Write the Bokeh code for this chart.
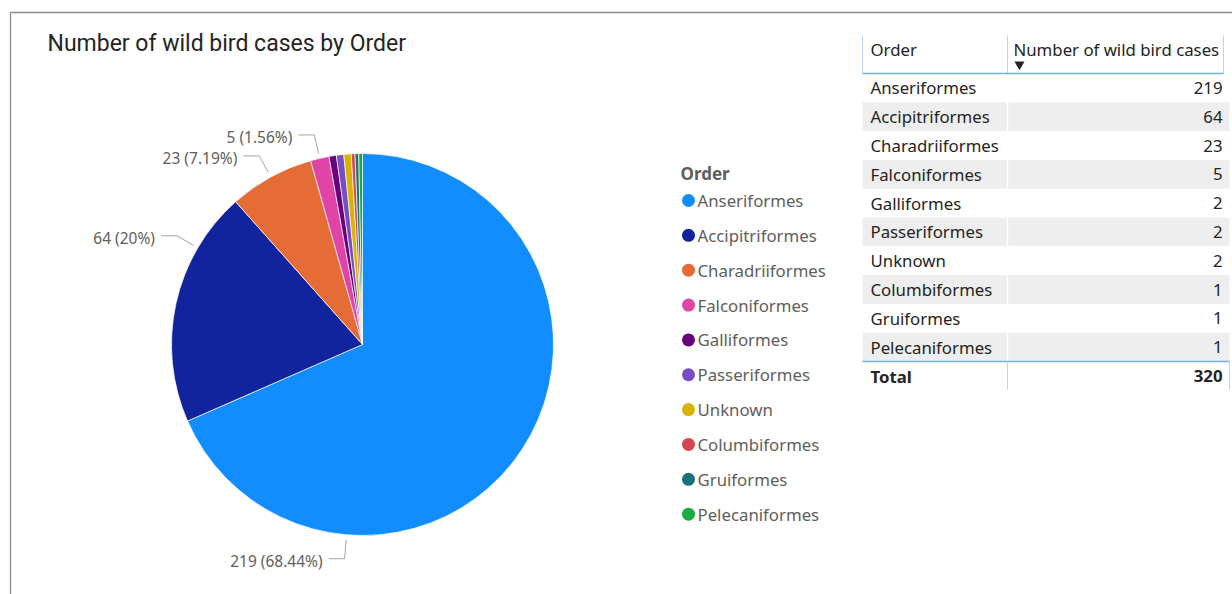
import math
from bokeh.plotting import figure
from bokeh.models import Range1d
from bokeh.core.properties import value
from bokeh.embed import file_html
from bokeh.resources import INLINE

# ---------------- data ----------------
chart_title = "Number of wild bird cases by Order"
orders = ["Anseriformes", "Accipitriformes", "Charadriiformes", "Falconiformes",
          "Galliformes", "Passeriformes", "Unknown", "Columbiformes",
          "Gruiformes", "Pelecaniformes"]
cases = [219, 64, 23, 5, 2, 2, 2, 1, 1, 1]
colors = ["#118DFF", "#12239E", "#E66C37", "#E044A7", "#6B007B",
          "#744EC2", "#D9B300", "#D64550", "#197278", "#1AAB40"]
table_headers = ["Order", "Number of wild bird cases"]
legend_title = "Order"
total_label = "Total"
n_labelled = 4

# ---------------- layout (page pixels) ----------------
W, H = 1232, 594
CX, CY, R = 362, 344, 191
anchor_frac = [0.75, 0.75, 0.5, 0.5]
FONT = "Noto Sans"
GRAY_TXT = "#605E5C"
DARK_TXT = "#252423"
FS = "16.8px"

p = figure(width=W, height=H, output_backend="svg", toolbar_location=None,
           x_range=Range1d(0, W), y_range=Range1d(H, 0),
           min_border=0, outline_line_color=None)
p.axis.visible = False
p.grid.visible = False

# outer frame
p.quad(left=[10], right=[1300], top=[12], bottom=[700], fill_color=None,
       line_color="#8C8C8C", line_width=1.3)

# title
p.text(x=[47], y=[43], text=[chart_title], text_font=value("Roboto"),
       text_font_size="23px", text_color=DARK_TXT, text_baseline="middle",
       text_align="left")

# ---------------- pie ----------------
total = sum(cases)
starts, ends = [], []
acc = 0.0
for c in cases:
    a0 = acc / total * 360.0
    acc += c
    a1 = acc / total * 360.0
    starts.append(a0)
    ends.append(a1)

p.wedge(x=CX, y=CY, radius=R,
        start_angle=[math.radians(90 - a) for a in starts],
        end_angle=[math.radians(90 - a) for a in ends],
        direction="clock", fill_color=colors, line_color="white", line_width=0.7)

def fmt_pct(v):
    s = f"{v:.2f}".rstrip("0").rstrip(".")
    return s + "%"

xs, ys, lx, ly, lt = [], [], [], [], []
for i in range(n_labelled):
    th = math.radians(starts[i] + anchor_frac[i] * (ends[i] - starts[i]))
    sx, sy = math.sin(th), -math.cos(th)
    p1 = (CX + (R + 5) * sx, CY + (R + 5) * sy)
    p2 = (CX + (R + 24) * sx, CY + (R + 24) * sy)
    p3 = (p2[0] - 16, p2[1])
    xs.append([p1[0], p2[0], p3[0]])
    ys.append([p1[1], p2[1], p3[1]])
    lx.append(p3[0] - 6)
    ly.append(p3[1] + 2)
    lt.append(f"{cases[i]} ({fmt_pct(cases[i] / total * 100)})")

p.multi_line(xs=xs, ys=ys, line_color="#A6A6A6", line_width=1)
p.text(x=lx, y=ly, text=lt, text_font=value(FONT), text_font_size="15.5px",
       text_color=GRAY_TXT, text_align="right", text_baseline="middle")

# ---------------- legend ----------------
LX, LY0, LSTEP = 688, 200, 34.85
p.text(x=[LX - 8], y=[173], text=[legend_title], text_font=value(FONT),
       text_font_size="17px", text_font_style="bold", text_color=GRAY_TXT,
       text_baseline="middle")
leg_y = [LY0 + i * LSTEP for i in range(len(orders))]
p.scatter(x=[LX] * len(orders), y=leg_y, size=13, marker="circle",
          fill_color=colors, line_color=None)
p.text(x=[LX + 9] * len(orders), y=leg_y, text=orders, text_font=value(FONT),
       text_font_size=FS, text_color=GRAY_TXT, text_baseline="middle")

# ---------------- table ----------------
TL, TM, TR = 862, 1007, 1229
HT, HB, RH = 35, 73, 28.8
n = len(orders)
row_top = [HB + i * RH for i in range(n)]
row_bot = [t + RH for t in row_top]
row_fill = ["#FFFFFF" if i % 2 == 0 else "#EEEEEE" for i in range(n)]
p.quad(left=TL, right=TR, top=row_top, bottom=row_bot, fill_color=row_fill,
       line_color=None)
# white column separator in body
p.segment(x0=[TM], y0=[HB], x1=[TM], y1=[HB + n * RH], line_color="#FFFFFF",
          line_width=1.5)
# header lines
p.segment(x0=[TL, TM, TR - 6], y0=[HT] * 3, x1=[TL, TM, TR - 6], y1=[HB] * 3,
          line_color="#B9D7F5", line_width=1)
p.segment(x0=[TL], y0=[HB], x1=[TR - 6], y1=[HB], line_color="#6FB0F0",
          line_width=1.3)
# total lines
TT = HB + n * RH
TB = TT + 28
p.segment(x0=[TL], y0=[TT], x1=[TR], y1=[TT], line_color="#6FB0F0",
          line_width=1.3)
p.segment(x0=[TM, TR], y0=[TT, TT], x1=[TM, TR], y1=[TB, TB],
          line_color="#B9D7F5", line_width=1)

# header text
p.text(x=[TL + 8, TM + 6], y=[49, 49], text=table_headers, text_font=value(FONT),
       text_font_size=FS, text_color=DARK_TXT, text_baseline="middle")
p.scatter(x=[TM + 12], y=[64], marker="inverted_triangle", size=10,
          fill_color=DARK_TXT, line_color=None)

row_mid = [t + RH / 2 for t in row_top]
p.text(x=[TL + 8] * n, y=row_mid, text=orders, text_font=value(FONT),
       text_font_size=FS, text_color=DARK_TXT, text_baseline="middle")
p.text(x=[TR - 7] * n, y=row_mid, text=[str(c) for c in cases],
       text_font=value(FONT), text_font_size=FS, text_color=DARK_TXT,
       text_baseline="middle", text_align="right")
p.text(x=[TL + 8], y=[TT + 14.5], text=[total_label], text_font=value(FONT),
       text_font_size=FS, text_font_style="bold", text_color=DARK_TXT,
       text_baseline="middle")
p.text(x=[TR - 7], y=[TT + 14.5], text=[str(total)], text_font=value(FONT),
       text_font_size=FS, text_font_style="bold", text_color=DARK_TXT,
       text_baseline="middle", text_align="right")

open("out.html", "w").write(file_html(p, INLINE))
